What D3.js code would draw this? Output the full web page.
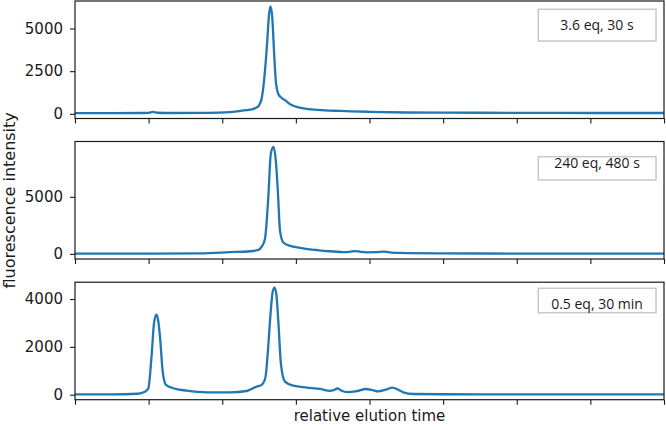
<!DOCTYPE html>
<html>
<head>
<meta charset="utf-8">
<script src="https://cdn.jsdelivr.net/npm/d3@7"></script>
<style>
  body { margin: 0; background: white; }
  svg { display: block; }
  .tick text { font-family: "DejaVu Sans", sans-serif; font-size: 15px; fill: #1a1a1a; }
  .axis-label { font-family: "DejaVu Sans", sans-serif; font-size: 15px; fill: #1a1a1a; }
  .y-label { font-size: 16px; }
  .note { font-family: "Open Sans", "Noto Sans", sans-serif; font-size: 14px; fill: #1a1a1a; }
</style>
</head>
<body>
<div id="svg-container"></div>
<script>

// relative elution time (arbitrary units), sampled where the trace changes
const time1 = [0, 5, 9, 10, 10.6, 11.2, 13, 18, 21, 22.5, 23.8, 24.6, 25.0, 25.4, 25.8, 26.1, 26.35, 26.55, 26.8, 27.05, 27.3, 27.6, 28.0, 28.6, 29.2, 30.0, 31.0, 33, 36, 40, 45, 50, 60, 70, 80]
const intensity1 = [40, 45, 50, 60, 110, 65, 50, 60, 100, 180, 250, 350, 500, 1000, 2500, 4200, 5800, 6300, 5600, 3500, 1800, 1180, 960, 780, 570, 420, 320, 230, 170, 120, 80, 70, 60, 50, 50]

const time2 = [0, 10, 17, 21, 23.8, 24.9, 25.4, 25.8, 26.25, 26.6, 26.95, 27.3, 27.55, 27.85, 28.3, 29.2, 30.6, 31.9, 32.8, 34.2, 36.4, 37.3, 38.0, 38.8, 39.6, 41.0, 41.8, 42.7, 44.1, 50, 60, 70, 80]
const intensity2 = [20, 20, 50, 150, 230, 350, 680, 1300, 4900, 8800, 9380, 8000, 5500, 2000, 1000, 700, 530, 400, 340, 250, 160, 180, 250, 180, 140, 150, 200, 140, 90, 50, 30, 25, 20]

const time3 = [0, 5, 8.5, 9.5, 9.96, 10.42, 10.73, 11.05, 11.3, 11.55, 11.91, 12.36, 13.35, 15.17, 17.89, 21.05, 23.32, 24.68, 25.3, 25.85, 26.17, 26.49, 26.85, 27.1, 27.35, 27.61, 27.98, 28.52, 29.65, 31.47, 33.28, 34.63, 35.1, 35.63, 36.2, 36.9, 38.3, 39.52, 40.3, 41.2, 42.2, 43.1, 43.9, 44.59, 45.95, 50, 60, 70, 80]
const intensity3 = [15, 15, 40, 120, 270, 1700, 2980, 3350, 3100, 2400, 980, 410, 270, 170, 100, 100, 155, 340, 400, 700, 1700, 3100, 4300, 4480, 4200, 3100, 1260, 550, 380, 300, 240, 160, 190, 260, 170, 110, 150, 240, 200, 140, 210, 300, 210, 100, 30, 20, 15, 15, 15]

const labels = ["3.6 eq, 30 s", "240 eq, 480 s", "0.5 eq, 30 min"]
const yTicks = [[0, 2500, 5000], [0, 5000], [0, 2000, 4000]]
const xTicks = [0, 10, 20, 30, 40, 50, 60, 70, 80]

const WIDTH = 666
const HEIGHT = 430
const LEFT = 75
const RIGHT = 664
const PANEL_TOP = [1, 141.5, 282.2]
const PANEL_H = 117.5
// note boxes were placed by hand in the source figure: [top, bottom, baseline] from panel top
const NOTE_BOX = [[8.3, 40, 29.3], [15.2, 38.5, 26.8], [6.1, 30.5, 27.1]]


class Chromatogram {

  constructor(svg, times, values, label, ticks, top, box) {
    this.svg = svg
    this.data = times.map((t, i) => ({ t: t, v: values[i] }))
    this.label = label
    this.ticks = ticks
    this.top = top
    this.box = box
  }

  render() {
    const g = this.svg.append("g")

    const x = d3.scaleLinear().domain([0, 80]).range([LEFT, RIGHT])

    // matplotlib-like 5% padding around the data range
    const [lo, hi] = d3.extent(this.data, d => d.v)
    const pad = (hi - lo) * 0.05
    const y = d3.scaleLinear()
      .domain([lo - pad, hi + pad])
      .range([this.top + PANEL_H, this.top])

    const yAxis = g.append("g")
      .attr("transform", `translate(${LEFT},0)`)
      .call(d3.axisLeft(y).tickValues(this.ticks).tickSize(5).tickPadding(7).tickFormat(d3.format("d")))
    yAxis.select(".domain").remove()
    yAxis.selectAll(".tick line").attr("stroke", "#1a1a1a").attr("stroke-width", 1.1)

    const xAxis = g.append("g")
      .attr("transform", `translate(0,${this.top + PANEL_H})`)
      .call(d3.axisBottom(x).tickValues(xTicks).tickSize(5).tickFormat(""))
    xAxis.select(".domain").remove()
    xAxis.selectAll(".tick line").attr("stroke", "#1a1a1a").attr("stroke-width", 1.1)

    g.append("path")
      .datum(this.data)
      .attr("fill", "none")
      .attr("stroke", "#1f77b4")
      .attr("stroke-width", 2.3)
      .attr("stroke-linejoin", "round")
      .attr("d", d3.line()
        .x(d => x(d.t))
        .y(d => y(d.v))
        .curve(d3.curveMonotoneX))

    g.append("rect")
      .attr("x", LEFT)
      .attr("y", this.top)
      .attr("width", RIGHT - LEFT)
      .attr("height", PANEL_H)
      .attr("fill", "none")
      .attr("stroke", "#1a1a1a")
      .attr("stroke-width", 1.2)

    const [bt, bb, base] = this.box
    g.append("rect")
      .attr("x", 538.3)
      .attr("y", this.top + bt)
      .attr("width", 117.7)
      .attr("height", bb - bt)
      .attr("fill", "white")
      .attr("stroke", "#c8c8c8")
      .attr("stroke-width", 1.5)

    g.append("text")
      .attr("class", "note")
      .attr("x", 597)
      .attr("y", this.top + base)
      .attr("text-anchor", "middle")
      .text(this.label)
  }

}


const svg = d3.select("#svg-container")
  .append("svg")
  .attr("width", WIDTH)
  .attr("height", HEIGHT)

const traces = [[time1, intensity1], [time2, intensity2], [time3, intensity3]]

traces.forEach(([t, v], i) => {
  new Chromatogram(svg, t, v, labels[i], yTicks[i], PANEL_TOP[i], NOTE_BOX[i]).render()
})

svg.append("text")
  .attr("class", "axis-label y-label")
  .attr("transform", `translate(15,${(PANEL_TOP[0] + PANEL_TOP[2] + PANEL_H) / 2}) rotate(-90)`)
  .attr("text-anchor", "middle")
  .text("fluorescence intensity")

svg.append("text")
  .attr("class", "axis-label")
  .attr("x", (LEFT + RIGHT) / 2)
  .attr("y", 421)
  .attr("text-anchor", "middle")
  .text("relative elution time")

</script>
</body>
</html>
